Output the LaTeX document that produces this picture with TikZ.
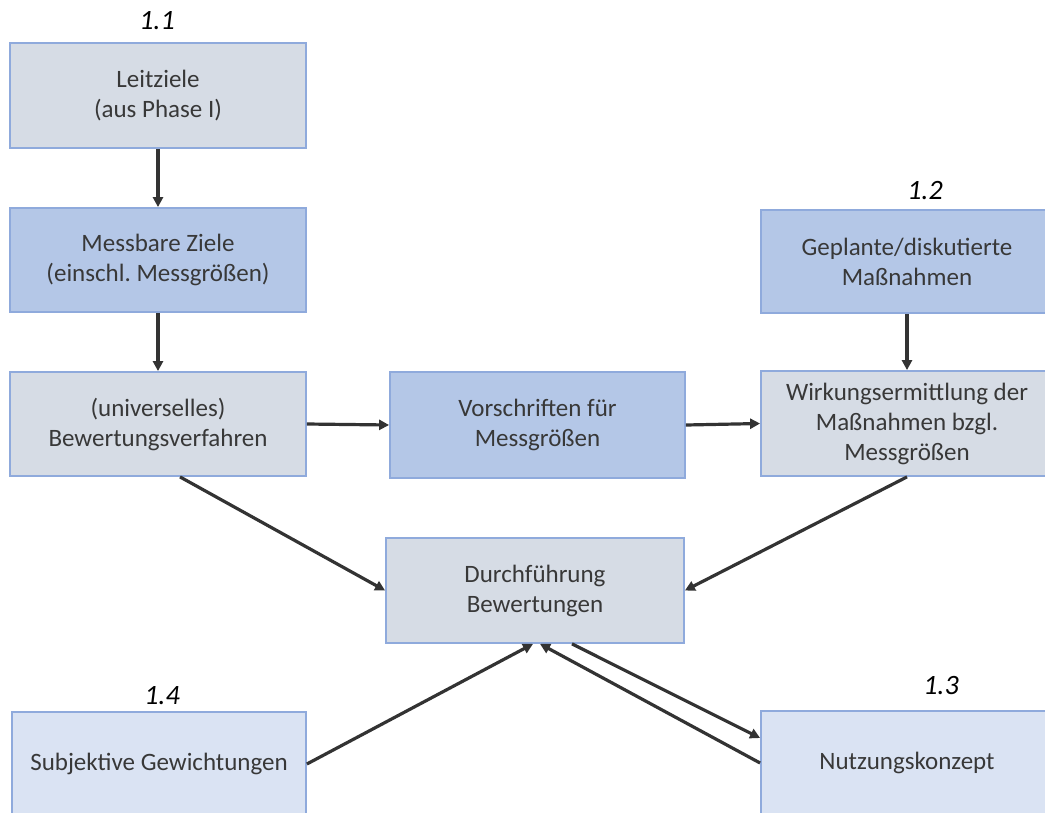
\documentclass[tikz,border=0pt]{standalone}
\usepackage{fontspec}
\setmainfont{Carlito}
\usetikzlibrary{arrows.meta}
\frenchspacing
\definecolor{boxgray}{HTML}{D6DCE5}
\definecolor{boxblue}{HTML}{B4C7E7}
\definecolor{boxlight}{HTML}{DAE3F3}
\definecolor{boxline}{HTML}{8FAADC}
\definecolor{txt}{HTML}{383838}
\definecolor{arr}{HTML}{333333}
\tikzset{
  box/.style={draw=boxline, line width=1.8pt, rectangle, align=center, text=txt,
    font=\fontsize{25}{30}\selectfont, inner sep=0pt},
  conn/.style={draw=arr, line width=3.2pt, -{Triangle[length=10pt,width=10pt]}},
  num/.style={font=\fontsize{28}{32}\selectfont\itshape, text=black},
}
\begin{document}
\begin{tikzpicture}[x=1pt,y=-1pt]
\useasboundingbox (0,0) rectangle (1045,812);
\clip (0,0) rectangle (1045,812);
\node[box, fill=boxgray, minimum width=296pt, minimum height=105pt] (leit) at (158,95.5) {Leitziele\\(aus Phase I)};
\node[box, fill=boxblue, minimum width=296pt, minimum height=104pt] (mess) at (158,260) {Messbare Ziele\\(einschl.\ Messgrößen)};
\node[box, fill=boxgray, minimum width=296pt, minimum height=104pt] (bew) at (158,424) {(universelles)\\Bewertungsverfahren};
\node[box, fill=boxblue, minimum width=295pt, minimum height=106pt] (vor) at (537.5,425) {Vorschriften für\\Messgrößen};
\node[box, fill=boxblue, minimum width=292pt, minimum height=103pt] (gep) at (907,261.5) {Geplante/diskutierte\\Maßnahmen};
\node[box, fill=boxgray, minimum width=292pt, minimum height=105pt] (wirk) at (907,423.5) {Wirkungsermittlung der\\Maßnahmen bzgl.\\Messgrößen};
\node[box, fill=boxgray, minimum width=298pt, minimum height=105pt] (dur) at (535,590.5) {Durchführung\\Bewertungen};
\node[box, fill=boxlight, minimum width=294pt, minimum height=104pt] (sub) at (159,764) {Subjektive Gewichtungen};
\node[box, fill=boxlight, minimum width=292pt, minimum height=104pt] (nut) at (907,763) {Nutzungskonzept};

\node[num] (n11) at (157,21) {1.1};
\node[num] (n12) at (925,191) {1.2};
\node[num] (n13) at (941,686) {1.3};
\node[num] (n14) at (162,696) {1.4};

\draw[conn] (leit.south) -- (mess.north);
\draw[conn] (mess.south) -- (bew.north);
\draw[conn] (bew.east) -- (vor.west);
\draw[conn] (vor.east) -- (wirk.west);
\draw[conn] (gep.south) -- (wirk.north);
\draw[conn] ([xshift=22pt]bew.south) -- (dur.west);
\draw[conn] (wirk.south) -- (dur.east);
\draw[conn] (sub.east) -- ([xshift=-2pt]dur.south);
\draw[conn] (nut.west) -- ([xshift=5pt]dur.south);
\draw[conn] ([xshift=37pt]dur.south) -- ([yshift=25pt]nut.west);
\end{tikzpicture}
\end{document}
